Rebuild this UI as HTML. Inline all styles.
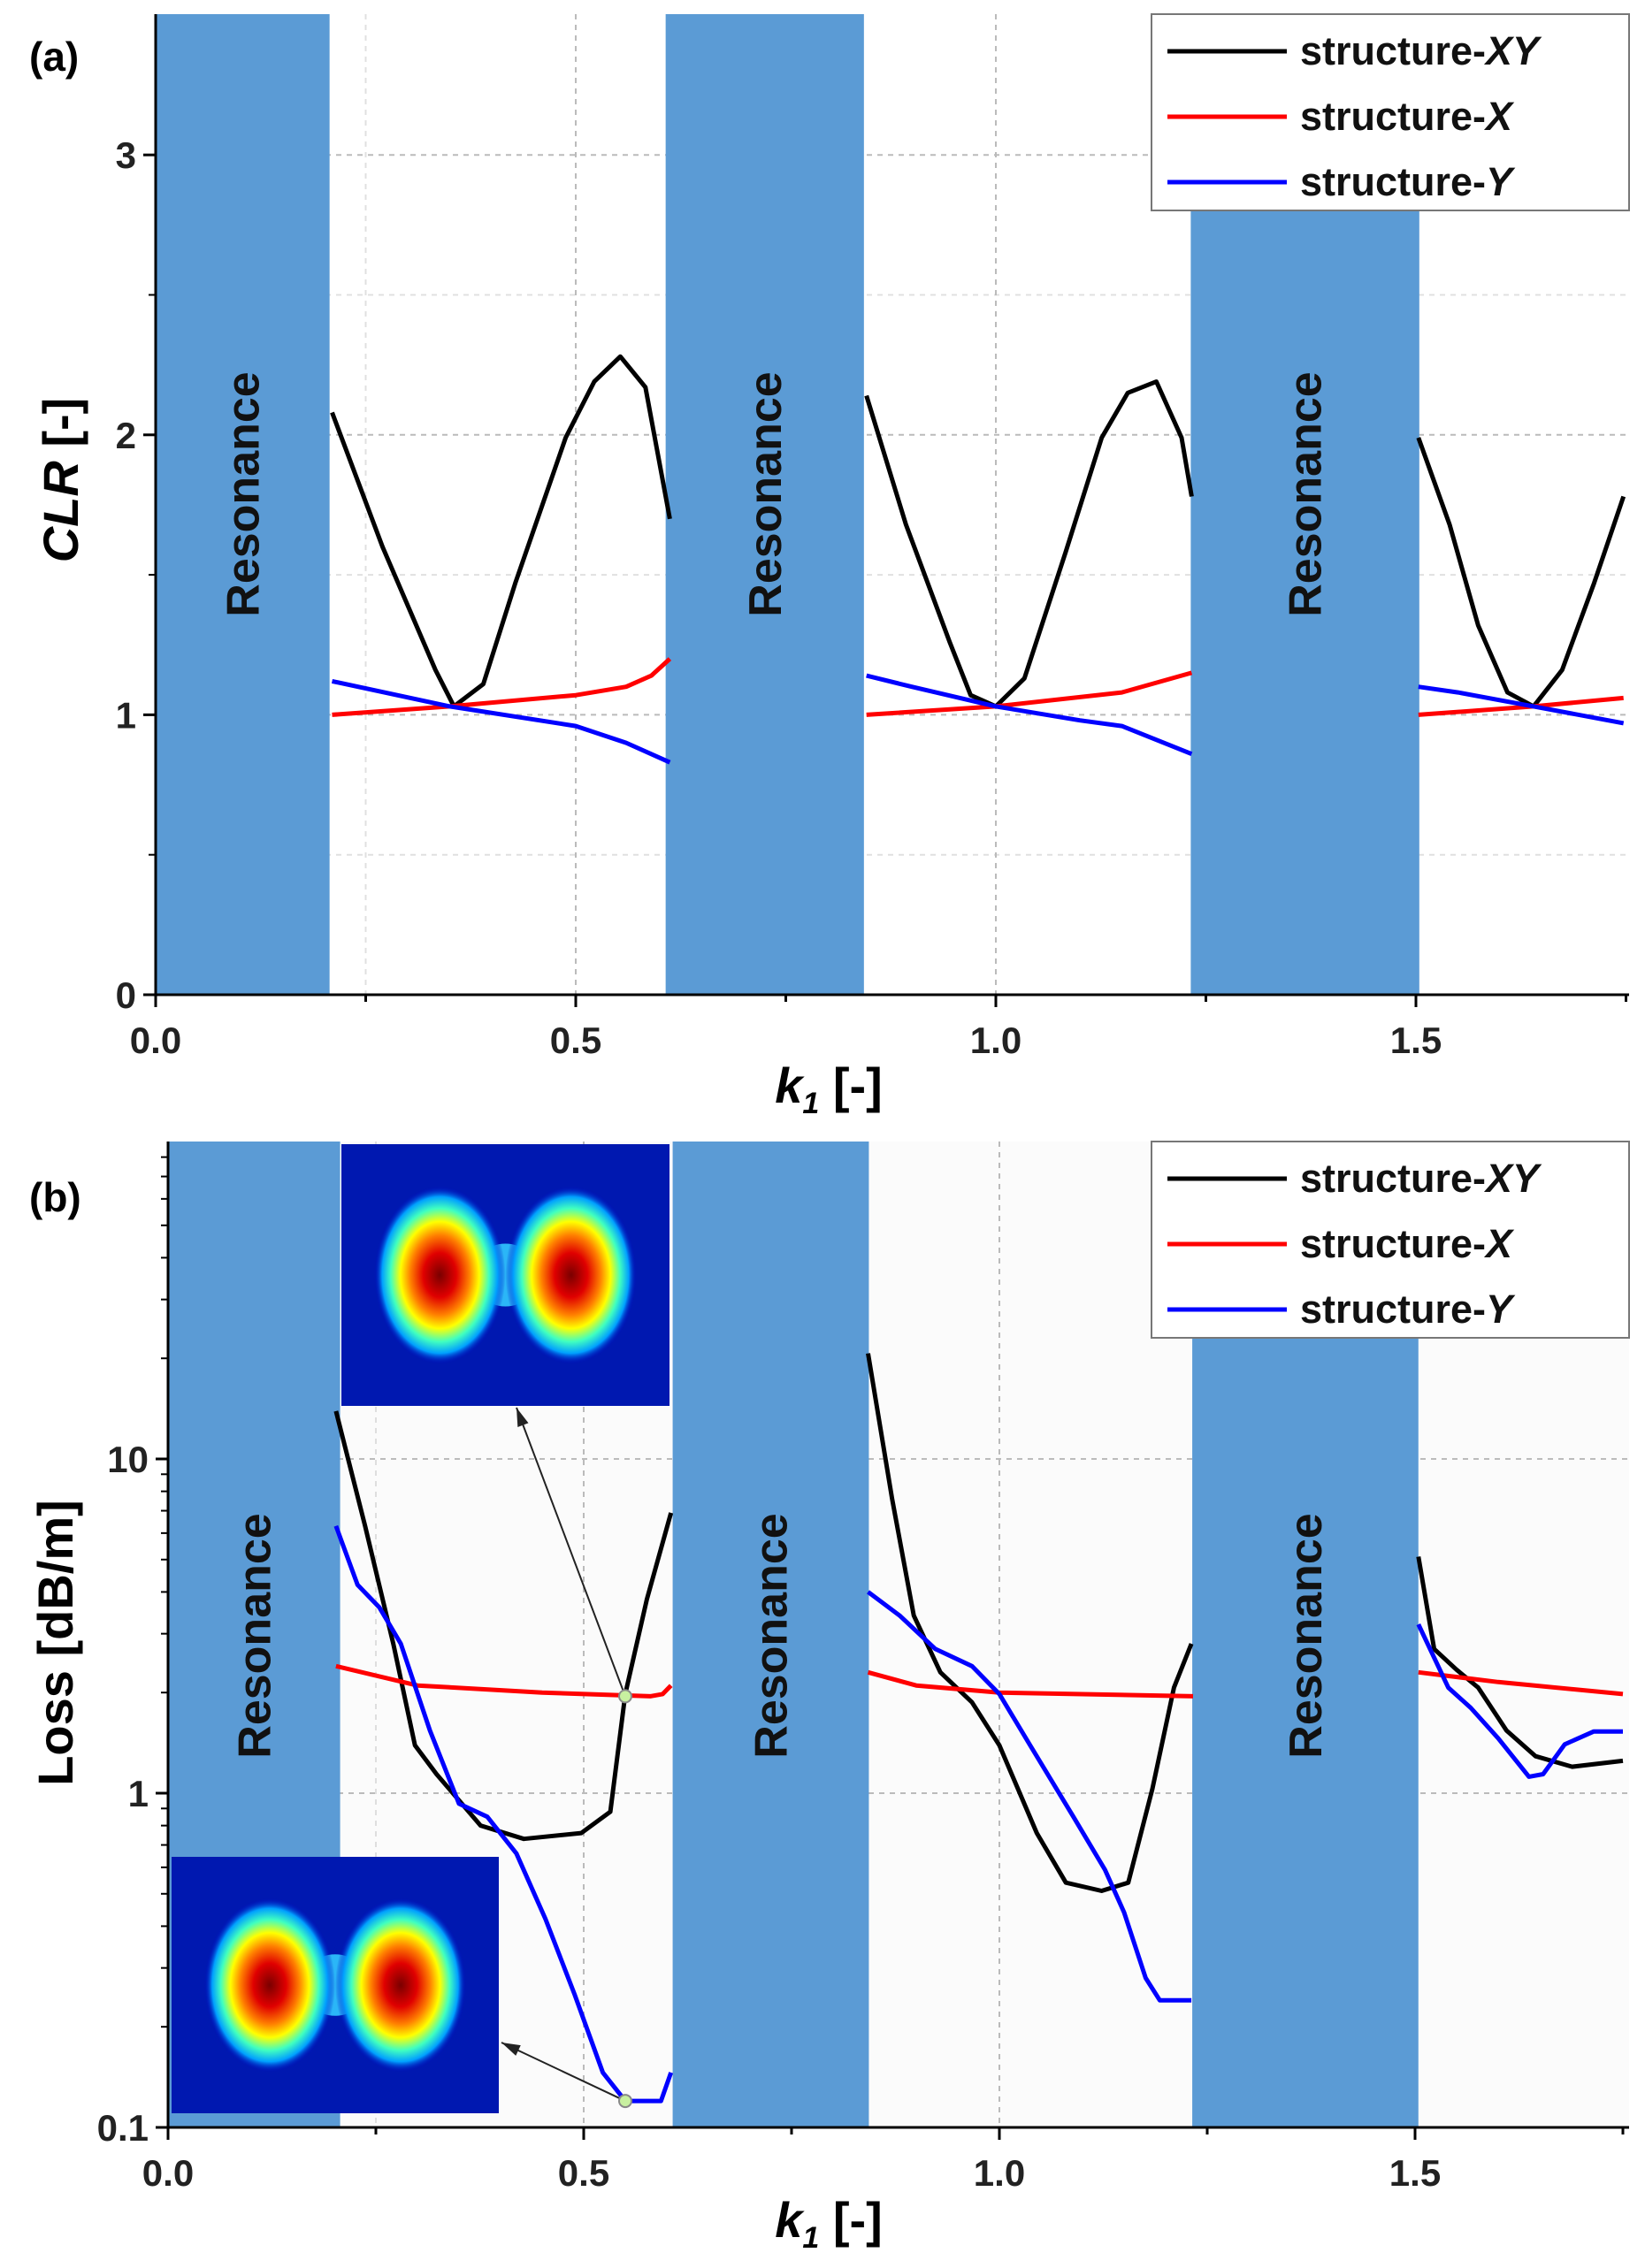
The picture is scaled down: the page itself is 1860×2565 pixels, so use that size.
<!DOCTYPE html>
<html><head><meta charset="utf-8"><style>
html,body{margin:0;padding:0;background:#fff}
svg{display:block}
text{font-family:"Liberation Sans",Arial,sans-serif;font-weight:bold}
</style></head><body>
<svg id="chart" width="1860" height="2565" viewBox="0 0 1860 2565" xmlns="http://www.w3.org/2000/svg">
<defs>
<radialGradient id="lobe" cx="50%" cy="50%" r="50%">
<stop offset="0" stop-color="#7a0000"/><stop offset="0.25" stop-color="#e00000"/><stop offset="0.45" stop-color="#ff8000"/><stop offset="0.6" stop-color="#ffff00"/><stop offset="0.75" stop-color="#40ffc0"/><stop offset="0.88" stop-color="#00a0ff"/><stop offset="1" stop-color="#0000c0" stop-opacity="0"/>
</radialGradient>
</defs>
<g id="root"></g>
</svg>
<script>
const bandsK=[[0,0.207],[0.607,0.843],[1.232,1.504]];
// Panel a: CLR
const aXY=[[[0.21,2.08],[0.27,1.6],[0.333,1.16],[0.355,1.03],[0.39,1.11],[0.428,1.47],[0.488,1.99],[0.522,2.19],[0.553,2.28],[0.583,2.17],[0.612,1.7]],
[[0.846,2.14],[0.893,1.68],[0.945,1.26],[0.97,1.07],[1.0,1.03],[1.034,1.13],[1.083,1.58],[1.126,1.99],[1.157,2.15],[1.191,2.19],[1.221,1.99],[1.233,1.78]],
[[1.503,1.99],[1.54,1.68],[1.574,1.32],[1.609,1.08],[1.64,1.03],[1.674,1.16],[1.712,1.47],[1.747,1.78]]];
const aX=[[[0.21,1.0],[0.35,1.03],[0.5,1.07],[0.56,1.1],[0.59,1.14],[0.612,1.2]],
[[0.846,1.0],[1.0,1.03],[1.15,1.08],[1.233,1.15]],
[[1.503,1.0],[1.64,1.03],[1.747,1.06]]];
const aY=[[[0.21,1.12],[0.35,1.03],[0.5,0.96],[0.56,0.9],[0.612,0.83]],
[[0.846,1.14],[0.9,1.1],[1.0,1.03],[1.1,0.98],[1.15,0.96],[1.233,0.86]],
[[1.503,1.1],[1.55,1.08],[1.64,1.03],[1.747,0.97]]];
// Panel b: Loss
const bXY=[[[0.202,13.9],[0.237,6.3],[0.271,2.8],[0.297,1.39],[0.323,1.14],[0.376,0.8],[0.428,0.73],[0.497,0.76],[0.532,0.88],[0.55,1.98],[0.576,3.8],[0.605,6.9]],
[[0.842,20.7],[0.871,7.6],[0.897,3.4],[0.929,2.3],[0.967,1.87],[1.0,1.39],[1.045,0.76],[1.08,0.54],[1.123,0.51],[1.155,0.54],[1.184,1.03],[1.21,2.07],[1.231,2.8]],
[[1.504,5.1],[1.523,2.7],[1.55,2.34],[1.576,2.07],[1.61,1.54],[1.645,1.29],[1.689,1.2],[1.75,1.25]]];
const bX=[[[0.202,2.4],[0.3,2.1],[0.45,2.0],[0.58,1.95],[0.595,1.98],[0.605,2.1]],
[[0.842,2.3],[0.9,2.1],[1.0,2.0],[1.233,1.95]],
[[1.504,2.3],[1.6,2.15],[1.75,1.98]]];
const bY=[[[0.202,6.3],[0.228,4.2],[0.254,3.6],[0.28,2.8],[0.315,1.54],[0.35,0.93],[0.384,0.85],[0.419,0.66],[0.454,0.42],[0.489,0.25],[0.523,0.146],[0.55,0.12],[0.593,0.12],[0.605,0.146]],
[[0.842,4.0],[0.88,3.4],[0.923,2.7],[0.967,2.4],[1.0,1.98],[1.037,1.39],[1.089,0.85],[1.127,0.59],[1.15,0.44],[1.176,0.28],[1.193,0.24],[1.231,0.24]],
[[1.504,3.2],[1.54,2.07],[1.567,1.8],[1.6,1.46],[1.637,1.12],[1.654,1.14],[1.68,1.4],[1.715,1.53],[1.75,1.53]]];
const markersB=[[0.55,1.95],[0.55,0.12]];
const xTicks=[0,0.5,1.0,1.5];
const xTickLabels=["0.0","0.5","1.0","1.5"];
const aYTicks=[0,1,2,3];
const bYTicks=[0.1,1,10];
const bYTickLabels=["0.1","1","10"];
const legendLabels=[["structure-","XY"],["structure-","X"],["structure-","Y"]];
const colors=["#000","#f00","#00f"];

const NS="http://www.w3.org/2000/svg";
const root=document.getElementById('root');
function mk(tag,attrs,parent,txt){const e=document.createElementNS(NS,tag);for(const k in attrs)e.setAttribute(k,attrs[k]);if(txt!==undefined)e.textContent=txt;(parent||root).appendChild(e);return e;}

const A={x0:176,ux:950,xr:1842,yb:1125,uy:316.6,yt:16};
const B={x0:190,ux:940,xr:1842,yb:2406,dec:378,yt:1291};
const ax=k=>A.x0+k*A.ux, ay=v=>A.yb-v*A.uy;
const bx=k=>B.x0+k*B.ux, by=v=>B.yb-(Math.log10(v)+1)*B.dec;

function path(pts,fx,fy){return pts.map((p,i)=>(i?'L':'M')+fx(p[0]).toFixed(1)+' '+fy(p[1]).toFixed(1)).join(' ');}

function panel(P,fx,fy,isLog,name){
  const g=mk('g',{});
  
  
  if(isLog) mk('rect',{x:P.x0,y:P.yt,width:P.xr-P.x0,height:P.yb-P.yt,fill:'#fbfbfb'},g);
  const gg=mk('g',{stroke:'#bbb','stroke-width':2,'stroke-dasharray':'6 6'},g);
  
  
  [0.25,0.5,0.75,1.0,1.25,1.5].forEach(k=>mk('line',{x1:fx(k),x2:fx(k),y1:P.yt,y2:P.yb,opacity:(k*2)%1?0.45:1},gg));
  if(!isLog){[0.5,1,1.5,2,2.5,3].forEach(v=>mk('line',{x1:P.x0,x2:P.xr,y1:fy(v),y2:fy(v),opacity:v%1?0.45:1},gg));}
  else{[1,10].forEach(v=>mk('line',{x1:P.x0,x2:P.xr,y1:fy(v),y2:fy(v)},gg));}
  bandsK.forEach((b,i)=>{
    const r=mk('rect',{x:fx(b[0]),y:P.yt,width:fx(b[1])-fx(b[0]),height:P.yb-P.yt,fill:'#5b9bd5'},g);
    
    
    const cx=(fx(b[0])+fx(b[1]))/2+18, cy=isLog?1850:559;
    const t=mk('text',{x:cx,y:cy,'font-size':52,'text-anchor':'middle',transform:`rotate(-90 ${cx} ${cy})`,fill:'#111'},g,'Resonance');
    
    
  });
  return g;
}
const ga=panel(A,ax,ay,false,'panel-a');
const gb=panel(B,bx,by,true,'panel-b');

function inset(x,y,w,h,name){
  const g=mk('g',{},gb);
  
  
  mk('rect',{x:x,y:y,width:w,height:h,fill:'#0018b0'},g);
  mk('ellipse',{cx:x+w*0.5,cy:y+h*0.5,rx:w*0.1,ry:h*0.12,fill:'#30c8ff',opacity:0.9},g);
  [0.3,0.7].forEach(f=>mk('rect',{x:x+w*(f-0.2),y:y+h*0.16,width:w*0.4,height:h*0.68,rx:w*0.1,fill:'url(#lobe)'},g));
}
inset(386,1294,371,296,'mode-inset-top');
inset(194,2100,370,290,'mode-inset-bottom');

function series(g,data,fx,fy,pref){
  data.forEach((segs,si)=>segs.forEach((seg,j)=>{
    const p=mk('path',{d:path(seg,fx,fy),fill:'none',stroke:colors[si],'stroke-width':5,'stroke-linejoin':'round'},g);
    
    
  }));
}
series(ga,[aXY,aX,aY],ax,ay,'clr');
series(gb,[bXY,bX,bY],bx,by,'loss');

const arrowTargets=[[584,1592],[567,2310]];
markersB.forEach((m,i)=>{
  const mx=bx(m[0]),my=by(m[1]);
  const [tx,ty]=arrowTargets[i];
  const l=mk('line',{x1:mx,y1:my,x2:tx,y2:ty,stroke:'#222','stroke-width':2},gb);
  
  
  const ang=Math.atan2(ty-my,tx-mx);
  const p1=[tx-22*Math.cos(ang-0.3),ty-22*Math.sin(ang-0.3)],p2=[tx-22*Math.cos(ang+0.3),ty-22*Math.sin(ang+0.3)];
  mk('polygon',{points:`${tx},${ty} ${p1} ${p2}`,fill:'#222'},gb);
  const c=mk('circle',{cx:mx,cy:my,r:7,fill:'#c8f0a0',stroke:'#888','stroke-width':2},gb);
  
  
});

function axes(g,P,fx,fy,yt,ylabels,minorY){
  mk('line',{x1:P.x0,x2:P.x0,y1:P.yt,y2:P.yb,stroke:'#000','stroke-width':3},g);
  mk('line',{x1:P.x0,x2:P.xr,y1:P.yb,y2:P.yb,stroke:'#000','stroke-width':3},g);
  [0.25,0.75,1.25,1.75].forEach(k=>{if(fx(k)<=P.xr)mk('line',{x1:fx(k),x2:fx(k),y1:P.yb,y2:P.yb+8,stroke:'#000','stroke-width':3},g);});
  xTicks.forEach((k,i)=>{
    mk('line',{x1:fx(k),x2:fx(k),y1:P.yb,y2:P.yb+14,stroke:'#000','stroke-width':3},g);
    const t=mk('text',{x:fx(k),y:P.yb+66,'font-size':42,'text-anchor':'middle',fill:'#222'},g,xTickLabels[i]);
    
    
  });
  minorY.forEach(v=>mk('line',{x1:P.x0-8,x2:P.x0,y1:fy(v),y2:fy(v),stroke:'#000','stroke-width':2},g));
  yt.forEach((v,i)=>{
    mk('line',{x1:P.x0-14,x2:P.x0,y1:fy(v),y2:fy(v),stroke:'#000','stroke-width':3},g);
    const t=mk('text',{x:P.x0-22,y:fy(v)+15,'font-size':42,'text-anchor':'end',fill:'#222'},g,ylabels[i]);
    
    
  });
}
axes(ga,A,ax,ay,aYTicks,aYTicks.map(String),[0.5,1.5,2.5]);
const minB=[];[0.1,1,10].forEach(d=>{for(let m=2;m<=9;m++){if(d*m<=89)minB.push(d*m);}});
axes(gb,B,bx,by,bYTicks,bYTickLabels,minB);

function txt(g,attrs,html,name){const t=mk('text',attrs,g);t.innerHTML=html;return t;}
txt(ga,{x:33,y:80,'font-size':46},'(a)','panel-a-label');
txt(gb,{x:33,y:1370,'font-size':46},'(b)','panel-b-label');
txt(ga,{x:88,y:543,'font-size':56,'text-anchor':'middle',transform:'rotate(-90 88 543)'},'<tspan font-style="italic">CLR</tspan> [-]','y-axis-title-a');
txt(gb,{x:82,y:1858,'font-size':56,'text-anchor':'middle',transform:'rotate(-90 82 1858)'},'Loss [dB/m]','y-axis-title-b');
txt(ga,{x:937,y:1247,'font-size':56,'text-anchor':'middle'},'<tspan font-style="italic">k</tspan><tspan font-style="italic" font-size="34" dy="12">1</tspan><tspan dy="-12"> [-]</tspan>','x-axis-title-a');
txt(gb,{x:937,y:2530,'font-size':56,'text-anchor':'middle'},'<tspan font-style="italic">k</tspan><tspan font-style="italic" font-size="34" dy="12">1</tspan><tspan dy="-12"> [-]</tspan>','x-axis-title-b');

function legend(g,y0,name){
  const lg=mk('g',{},g);
  
  
  mk('rect',{x:1302,y:y0,width:540,height:222,fill:'#fff',stroke:'#777','stroke-width':2},lg);
  legendLabels.forEach((l,i)=>{
    const yy=y0+42+i*74;
    mk('line',{x1:1320,x2:1455,y1:yy,y2:yy,stroke:colors[i],'stroke-width':5},lg);
    const t=mk('text',{x:1470,y:yy+15,'font-size':45,fill:'#111'},lg);
    t.innerHTML=l[0]+'<tspan font-style="italic">'+l[1]+'</tspan>';
    
    
  });
}
legend(ga,16,'legend-a');
legend(gb,1291,'legend-b');
</script>
</body></html>
